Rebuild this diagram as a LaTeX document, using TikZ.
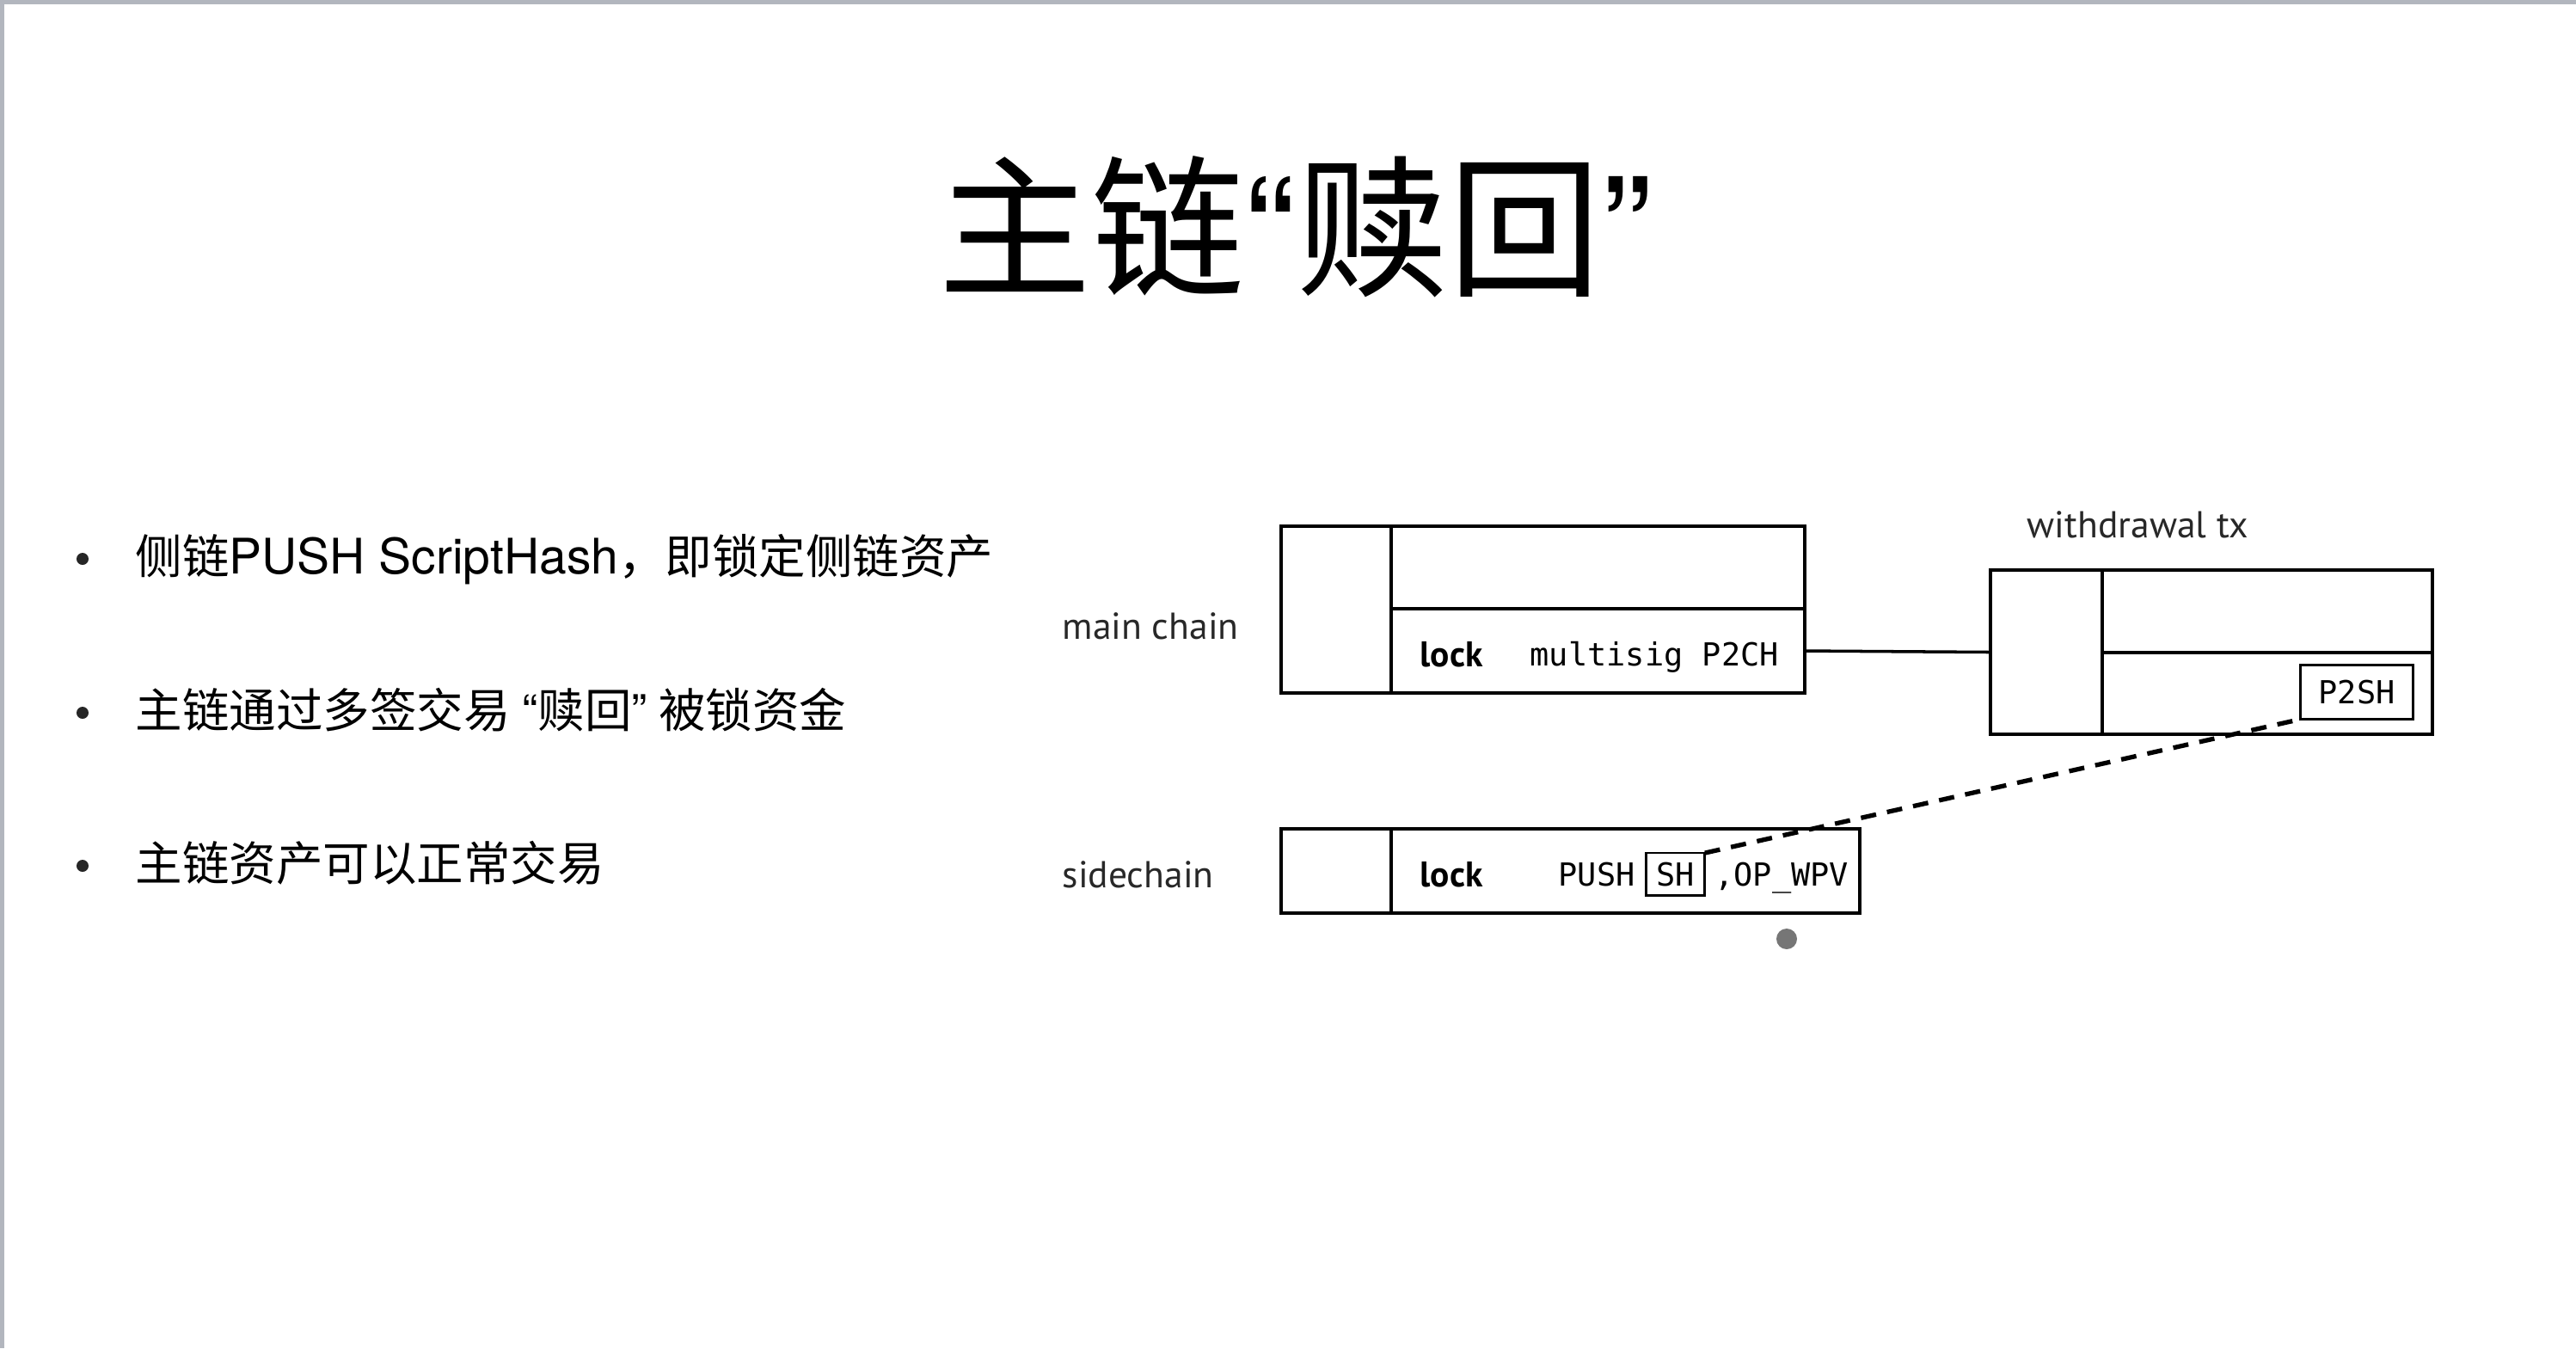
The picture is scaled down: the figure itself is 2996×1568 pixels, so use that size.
\documentclass[tikz,border=0pt]{standalone}
\usepackage{fontspec}
\setmainfont{PT Sans}
\newfontfamily\cjk{Noto Sans CJK SC}
\newfontfamily\heros{TeX Gyre Heros}
\newfontfamily\mono{DejaVu Sans Mono}
\usepackage{tikz}
\usetikzlibrary{positioning}
\definecolor{frameg}{RGB}{178,182,190}
\definecolor{dotg}{RGB}{118,118,118}
\definecolor{labelg}{RGB}{40,40,40}
\tikzset{
  txbox/.style={draw, line width=1pt, inner sep=0pt, outer sep=0pt},
  slotbox/.style={draw, line width=0.8pt, inner ysep=0pt, outer sep=0pt, font=\mono\fontsize{10.5}{12}\selectfont},
  chainlabel/.style={anchor=base west, inner sep=0pt, text=labelg, font=\fontsize{12.4}{14}\selectfont},
  locktext/.style={anchor=base west, inner sep=0pt, font=\bfseries\fontsize{11.8}{14}\selectfont},
  codetext/.style={anchor=base west, inner sep=0pt, font=\mono\fontsize{10.5}{12}\selectfont},
  bullettext/.style={anchor=base west, inner sep=0pt, font=\fontsize{15.5}{18}\selectfont},
  bulletdot/.style={circle, fill=black!85, inner sep=0pt, minimum size=0.14cm},
}
\newcommand{\latin}[1]{{\heros\fontsize{16.2}{18}\selectfont #1}}
\begin{document}
\begin{tikzpicture}[x=0.01cm, y=-0.01cm]
    % 页面和边框
    \fill[white] (0,0) rectangle (2996,1568);
    \useasboundingbox (0,0) rectangle (2996,1568);
    \fill[frameg] (0,0) rectangle (2996,5);
    \fill[frameg] (0,0) rectangle (5,1568);

    % 标题
    \node[anchor=base, inner sep=0pt, font=\fontsize{50.6}{60}\selectfont] (title) at (1507,331)
        {{\cjk 主链}{\heros “}{\cjk 赎回}{\heros ”}};

    % 要点
    \foreach \y [count=\i] in {650,829,1007}
        \node[bulletdot] (dot\i) at (96,\y) {};
    \node[bullettext] (item1) at (157,667) {{\cjk 侧链}\latin{PUSH ScriptHash}{\cjk ，即锁定侧链资产}};
    \node[bullettext] (item2) at (157,846) {{\cjk 主链通过多签交易}\hspace{0.25em}{\heros “}{\cjk 赎回}{\heros ”}\hspace{0.25em}{\cjk 被锁资金}};
    \node[bullettext] (item3) at (157,1024) {{\cjk 主链资产可以正常交易}};

    % main chain
    \node[txbox, minimum width=6.09cm, minimum height=1.94cm] (mainbox) at (1794.5,709) {};
    \node[txbox, minimum width=4.81cm, minimum height=0.98cm, anchor=south east] (mainlock) at (mainbox.south east) {};
    \draw[line width=1pt] (mainlock.north west) -- (mainlock.north west |- mainbox.north);
    \node[chainlabel] (mainlbl) at (1235,743) {main chain};
    \node[locktext] (mainlk) at (1651,775) {lock};
    \node[codetext] (mainscr) at (1779,774) {multisig P2CH};

    % withdrawal tx
    \node[txbox, minimum width=5.14cm, minimum height=1.91cm] (wtx) at (2572,758.5) {};
    \node[txbox, minimum width=3.84cm, minimum height=0.95cm, anchor=south east] (wtxlock) at (wtx.south east) {};
    \draw[line width=1pt] (wtxlock.north west) -- (wtxlock.north west |- wtx.north);
    \node[chainlabel] (wtxlbl) at (2357,625) {withdrawal tx};
    \node[slotbox, inner xsep=0.21cm, minimum height=0.63cm] (ptsh) at (2741,805) {P2SH};

    % sidechain
    \node[txbox, minimum width=6.73cm, minimum height=0.98cm] (sidebox) at (1826.5,1013) {};
    \draw[line width=1pt] ([xshift=1.28cm]sidebox.north west) -- ([xshift=1.28cm]sidebox.south west);
    \node[chainlabel] (sidelbl) at (1235,1032) {sidechain};
    \node[locktext] (sidelk) at (1651,1031) {lock};
    \node[codetext] (push) at (1812,1030) {PUSH};
    \node[slotbox, inner xsep=0.12cm, minimum height=0.49cm, right=0.12cm of push] (sh) {SH};
    \node[codetext, base right=0.11cm of push.base -| sh.east] (opwpv) {,OP\_WPV};
    \node[circle, fill=dotg, inner sep=0pt, minimum size=0.24cm] (dot) at (2078,1092) {};

    % 连线
    \draw[line width=1pt] (mainlock.east) -- (wtx.west);
    \draw[line width=1.5pt, dash pattern=on 0.18cm off 0.13cm] (sh.north east) -- (ptsh.south west);
\end{tikzpicture}
\end{document}
